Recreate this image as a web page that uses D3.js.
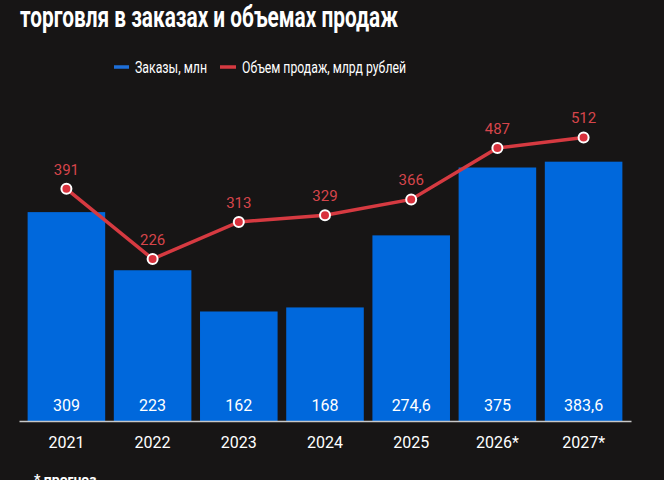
<!DOCTYPE html>
<html>
<head>
<meta charset="utf-8">
<script src="https://cdn.jsdelivr.net/npm/d3@7"></script>
<style>
  body { margin: 0; background: #171515; }
  svg { display: block; font-family: Roboto, "Noto Sans", sans-serif; }
</style>
</head>
<body>
<div id="chart"></div>
<script>
var years = ['2021', '2022', '2023', '2024', '2025', '2026*', '2027*'];
var orders = [309, 223, 162, 168, 274.6, 375, 383.6];
var orderLabels = ['309', '223', '162', '168', '274,6', '375', '383,6'];
var sales = [391, 226, 313, 329, 366, 487, 512];

var width = 664, height = 480;
var baseY = 421;

var svg = d3.select("#chart")
  .append("svg")
    .attr("width", width)
    .attr("height", height);

svg.append("rect")
  .attr("width", width)
  .attr("height", height)
  .attr("fill", "#171515");

// title
svg.append("text")
  .attr("x", 20)
  .attr("y", 27)
  .attr("fill", "#ffffff")
  .attr("font-size", 29)
  .attr("font-weight", "bold")
  .attr("textLength", 378)
  .attr("lengthAdjust", "spacingAndGlyphs")
  .text("торговля в заказах и объемах продаж");

// legend
var legend = svg.append("g");
legend.append("line")
  .attr("x1", 114).attr("x2", 129).attr("y1", 67).attr("y2", 67)
  .attr("stroke", "#1e6fd9").attr("stroke-width", 3.5);
legend.append("text")
  .attr("x", 135).attr("y", 73)
  .attr("fill", "#ffffff").attr("font-size", 16)
  .attr("textLength", 72).attr("lengthAdjust", "spacingAndGlyphs")
  .text("Заказы, млн");
legend.append("line")
  .attr("x1", 220).attr("x2", 236).attr("y1", 67).attr("y2", 67)
  .attr("stroke", "#d63a41").attr("stroke-width", 3.5);
legend.append("text")
  .attr("x", 242).attr("y", 73)
  .attr("fill", "#ffffff").attr("font-size", 16)
  .attr("textLength", 164).attr("lengthAdjust", "spacingAndGlyphs")
  .text("Объем продаж, млрд рублей");

var x = d3.scaleBand()
  .domain(years)
  .range([19, 631])
  .paddingInner(0.1)
  .paddingOuter(0.1);

// bars: 0.676 px per unit
var y = d3.scaleLinear()
  .domain([0, 400])
  .range([baseY, baseY - 400 * 0.676]);

// line on its own axis
var yLine = d3.scaleLinear()
  .domain([0, 512])
  .range([355, 355 - 512 * 0.425]);

svg.selectAll(".bar")
  .data(orders)
  .enter()
  .append("rect")
    .attr("class", "bar")
    .attr("x", function(d, i) { return x(years[i]); })
    .attr("width", x.bandwidth())
    .attr("y", function(d) { return y(d); })
    .attr("height", function(d) { return baseY - y(d); })
    .attr("fill", "#0068dc");

svg.selectAll(".barLabel")
  .data(orderLabels)
  .enter()
  .append("text")
    .attr("class", "barLabel")
    .attr("x", function(d, i) { return x(years[i]) + x.bandwidth() / 2; })
    .attr("y", 411)
    .attr("text-anchor", "middle")
    .attr("fill", "#ffffff")
    .attr("font-size", 16)
    .text(function(d) { return d; });

// axis
var xAxis = svg.append("g")
  .attr("transform", "translate(0," + baseY + ")")
  .call(d3.axisBottom(x).tickSize(0).tickPadding(16));
xAxis.select(".domain")
  .attr("stroke", "#c8c8c8")
  .attr("stroke-width", 1.5);
xAxis.selectAll("text")
  .attr("fill", "#ffffff")
  .attr("font-size", 16)
  .attr("font-family", "Roboto, sans-serif");

// line
var line = d3.line()
  .x(function(d, i) { return x(years[i]) + x.bandwidth() / 2; })
  .y(function(d) { return yLine(d); });

svg.append("path")
  .datum(sales)
  .attr("d", line)
  .attr("fill", "none")
  .attr("stroke", "#d63a41")
  .attr("stroke-width", 3.5);

svg.selectAll(".dot")
  .data(sales)
  .enter()
  .append("circle")
    .attr("class", "dot")
    .attr("cx", function(d, i) { return x(years[i]) + x.bandwidth() / 2; })
    .attr("cy", function(d) { return yLine(d); })
    .attr("r", 5)
    .attr("fill", "#d9313d")
    .attr("stroke", "#ffffff")
    .attr("stroke-width", 2);

svg.selectAll(".salesLabel")
  .data(sales)
  .enter()
  .append("text")
    .attr("class", "salesLabel")
    .attr("x", function(d, i) { return x(years[i]) + x.bandwidth() / 2; })
    .attr("y", function(d) { return yLine(d) - 14; })
    .attr("text-anchor", "middle")
    .attr("fill", "#d6454b")
    .attr("font-size", 15)
    .text(function(d) { return d; });

// footnote (cut by the bottom edge, as in the reference)
svg.append("text")
  .attr("x", 34)
  .attr("y", 485)
  .attr("fill", "#ffffff")
  .attr("font-size", 14)
  .attr("font-weight", "bold")
  .text("* прогноз");
</script>
</body>
</html>
